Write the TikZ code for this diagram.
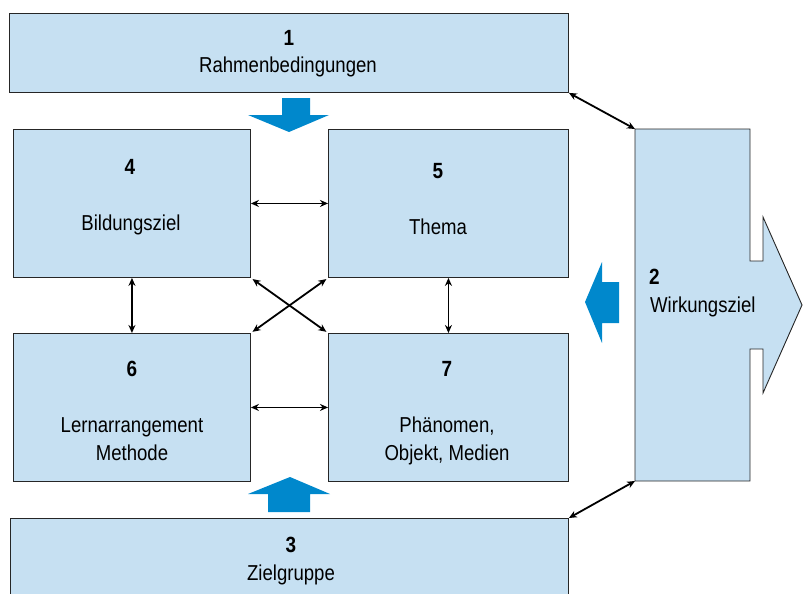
\documentclass[tikz,border=0pt]{standalone}
\usepackage{fontspec}
\setmainfont{Liberation Sans}[FakeStretch=0.86]
\usetikzlibrary{arrows.meta}
\definecolor{boxfill}{RGB}{198,224,242}
\definecolor{arrblue}{RGB}{0,136,204}
\begin{document}
\begin{tikzpicture}[x=1pt,y=-1pt,
  box/.style={draw=black!85,fill=boxfill,line width=0.9pt,inner sep=0,anchor=north west},
  conn/.style={{Stealth[length=8pt,width=7pt]}-{Stealth[length=8pt,width=7pt]},line width=1.8pt},
  bigarrow/.style={fill=arrblue,draw=none},
  lbl/.style={font=\fontsize{21.6}{28}\selectfont,inner sep=0,anchor=base},
  lbll/.style={font=\fontsize{21.6}{28}\selectfont,inner sep=0,anchor=base west},
  num/.style={font=\fontsize{22}{28}\selectfont\bfseries,inner sep=0,anchor=base}]
\clip (0,0) rectangle (803,594);
% boxes
\node[box,minimum width=559pt,minimum height=79pt] (b1) at (9,13) {};
\node[box,minimum width=237pt,minimum height=148pt] (b4) at (13,129) {};
\node[box,minimum width=240pt,minimum height=148pt] (b5) at (328,129) {};
\node[box,minimum width=237pt,minimum height=148pt] (b6) at (13,333) {};
\node[box,minimum width=240pt,minimum height=148pt] (b7) at (328,333) {};
\node[box,minimum width=558pt,minimum height=92pt] (b3) at (10,518) {};
% box 2 with arrow
\draw[draw=black!85,fill=boxfill,line width=0.9pt]
  (635,129) -- (750,129) -- (750,261) -- (763,261) -- (763,217) -- (802,305)
  -- (763,393) -- (763,349) -- (750,349) -- (750,481) -- (635,481) -- cycle;
\coordinate (b2nw) at (635,129);
\coordinate (b2sw) at (635,481);
% blue arrows
\fill[bigarrow] (282,98) -- (310,98) -- (310,115) -- (329,115) -- (289,132) -- (248,115) -- (282,115) -- cycle;
\fill[bigarrow] (268,512) -- (310,512) -- (310,494) -- (330,494) -- (290,477) -- (248,494) -- (268,494) -- cycle;
\fill[bigarrow] (619,282) -- (619,323) -- (602,323) -- (602,343) -- (585,302) -- (602,262) -- (602,282) -- cycle;
% connectors
\draw[conn] (b1.south east) -- (b2nw);
\draw[conn] (b3.north east) -- (b2sw);
\draw[conn] (b4.east) -- (b5.west);
\draw[conn] (b6.east) -- (b7.west);
\draw[conn] (b4.south) -- (b6.north);
\draw[conn] (b5.south) -- (b7.north);
\draw[conn,shorten <=2pt,shorten >=2pt] (b4.south east) -- (b7.north west);
\draw[conn,shorten <=2pt,shorten >=2pt] (b5.south west) -- (b6.north east);
% labels
\node[num] (n1) at (289,46) {1};
\node[lbl] (t1) at (288,73) {Rahmenbedingungen};
\node[num] (n4) at (130,174) {4};
\node[lbl] (t4) at (131,230) {Bildungsziel};
\node[num] (n5) at (438,178) {5};
\node[lbl] (t5) at (438,234) {Thema};
\node[num] (n6) at (132,376) {6};
\node[lbl] (t6a) at (132,432) {Lernarrangement};
\node[lbl] (t6b) at (132,460) {Methode};
\node[num] (n7) at (447,376) {7};
\node[lbl] (t7a) at (447,432) {Phänomen,};
\node[lbl] (t7b) at (447,460) {Objekt, Medien};
\node[num,anchor=base west] (n2) at (649,284) {2};
\node[lbll] (t2) at (650,312) {Wirkungsziel};
\node[num] (n3) at (291,552) {3};
\node[lbl] (t3) at (291,580) {Zielgruppe};
\end{tikzpicture}
\end{document}
